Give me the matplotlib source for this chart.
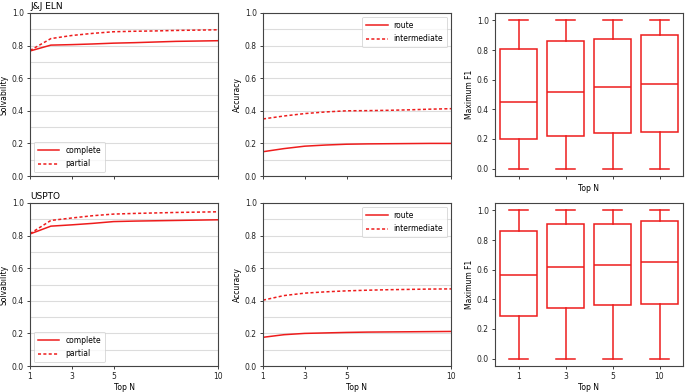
import matplotlib
matplotlib.use("Agg")
import matplotlib.pyplot as plt
import numpy as np

plt.rcParams['font.family'] = ['DejaVu Sans']
FS = 5.5

top_n = [1, 2, 3, 4, 5, 6, 7, 8, 9, 10]
xticks = [1, 3, 5, 10]
box_labels = ['1', '3', '5', '10']

# J&J ELN
jnj_complete = [0.767, 0.803, 0.806, 0.810, 0.815, 0.818, 0.822, 0.826, 0.828, 0.830]
jnj_partial = [0.770, 0.843, 0.862, 0.875, 0.885, 0.888, 0.890, 0.893, 0.895, 0.897]
jnj_route = [0.149, 0.168, 0.183, 0.190, 0.195, 0.197, 0.198, 0.199, 0.200, 0.200]
jnj_inter = [0.350, 0.368, 0.383, 0.393, 0.400, 0.401, 0.403, 0.406, 0.410, 0.413]
jnj_q1 = [0.200, 0.222, 0.243, 0.247]
jnj_med = [0.452, 0.517, 0.553, 0.569]
jnj_q3 = [0.807, 0.863, 0.876, 0.903]

# USPTO
us_complete = [0.810, 0.858, 0.866, 0.875, 0.886, 0.889, 0.891, 0.893, 0.895, 0.897]
us_partial = [0.812, 0.893, 0.908, 0.922, 0.932, 0.936, 0.939, 0.942, 0.944, 0.946]
us_route = [0.176, 0.192, 0.200, 0.203, 0.206, 0.208, 0.209, 0.210, 0.211, 0.212]
us_inter = [0.404, 0.432, 0.447, 0.455, 0.461, 0.465, 0.468, 0.470, 0.472, 0.473]
us_q1 = [0.290, 0.339, 0.362, 0.371]
us_med = [0.564, 0.618, 0.629, 0.652]
us_q3 = [0.861, 0.906, 0.910, 0.930]

wh_lo = [0.0, 0.0, 0.0, 0.0]
wh_hi = [1.0, 1.0, 1.0, 1.0]

RED = '#ee1c1c'
GRID = '#dcdcdc'
SPINE = '#444444'

fig = plt.figure(figsize=(6.85, 3.92), dpi=100)

W = 188 / 685
H = 163 / 392
lefts = [30 / 685, 263 / 685, 495 / 685]
bottoms = [1 - 176 / 392, 1 - 366 / 392]


def style(ax):
    for s in ax.spines.values():
        s.set_color(SPINE)
        s.set_linewidth(0.8)
    ax.tick_params(labelsize=FS, colors='#222222', length=2.5, width=0.6, pad=2)


def line_panel(ax, a, b, la, lb, ylabel, loc, bottom):
    ax.plot(top_n, a, color=RED, lw=1.1, label=la)
    ax.plot(top_n, b, color=RED, lw=1.1, ls=(0, (2, 1.5)), label=lb)
    ax.set_xlim(1, 10)
    ax.set_ylim(0, 1)
    ax.set_xticks(xticks)
    ax.set_yticks(np.arange(0, 1.01, 0.2))
    ax.set_yticks(np.arange(0.1, 1.0, 0.2), minor=True)
    ax.tick_params(which='minor', length=0)
    ax.grid(axis='y', which='both', color=GRID, lw=0.8)
    ax.set_axisbelow(True)
    style(ax)
    ax.set_ylabel(ylabel, fontsize=FS, labelpad=2)
    if bottom:
        ax.set_xlabel('Top N', fontsize=FS, labelpad=1.5)
    else:
        ax.set_xticklabels([])
    leg = ax.legend(loc=loc, fontsize=FS, frameon=True, fancybox=True,
                    handlelength=2.8, borderpad=0.5, labelspacing=0.6)
    leg.get_frame().set_edgecolor('#cccccc')
    leg.get_frame().set_linewidth(0.6)


def box_panel(ax, q1, med, q3, bottom):
    stats = []
    for i in range(4):
        stats.append(dict(med=med[i], q1=q1[i], q3=q3[i],
                          whislo=wh_lo[i], whishi=wh_hi[i], fliers=[],
                          label=box_labels[i]))
    lp = dict(color=RED, lw=1.1)
    ax.bxp(stats, positions=[0, 1, 2, 3], widths=0.8, capwidths=0.4,
           showfliers=False, patch_artist=True,
           boxprops=dict(facecolor='white', edgecolor=RED, lw=1.1),
           medianprops=lp, whiskerprops=lp, capprops=lp)
    ax.set_xlim(-0.5, 3.5)
    ax.set_ylim(-0.05, 1.05)
    ax.set_yticks(np.arange(0, 1.01, 0.2))
    ax.set_xticks([0, 1, 2, 3])
    style(ax)
    ax.set_ylabel('Maximum F1', fontsize=FS, labelpad=2)
    ax.set_xlabel('Top N', fontsize=FS, labelpad=1.5)
    if bottom:
        ax.set_xticklabels(box_labels)
    else:
        ax.set_xticklabels([])


rows = [
    ('J&J ELN', jnj_complete, jnj_partial, jnj_route, jnj_inter, jnj_q1, jnj_med, jnj_q3),
    ('USPTO', us_complete, us_partial, us_route, us_inter, us_q1, us_med, us_q3),
]

for r, (title, c, p, ro, it, q1, md, q3) in enumerate(rows):
    bottom = (r == 1)
    ax1 = fig.add_axes([lefts[0], bottoms[r], W, H])
    line_panel(ax1, c, p, 'complete', 'partial', 'Solvability', 'lower left', bottom)
    ax1.set_title(title, loc='left', fontsize=6.5, pad=3)
    ax2 = fig.add_axes([lefts[1], bottoms[r], W, H])
    line_panel(ax2, ro, it, 'route', 'intermediate', 'Accuracy', 'upper right', bottom)
    ax3 = fig.add_axes([lefts[2], bottoms[r], W, H])
    box_panel(ax3, q1, md, q3, bottom)

fig.savefig('out.png', dpi=100, facecolor='white')
